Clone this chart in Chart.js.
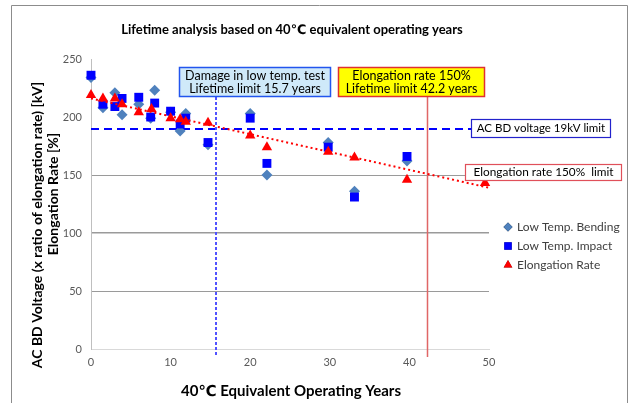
<!DOCTYPE html>
<html>
<head>
<meta charset="utf-8">
<script src="https://cdn.jsdelivr.net/npm/chart.js@4.4.1/dist/chart.umd.min.js"></script>
<style>
html,body{margin:0;padding:0;background:#fff;}
#wrap{position:relative;width:629px;height:403px;}
</style>
</head>
<body>
<div id="wrap"><canvas id="c" width="629" height="403"></canvas></div>
<script>
// ---- data ----
const bendingX = [0, 1.5, 3, 3.9, 6, 7.5, 8, 10, 11.2, 11.9, 14.7, 20, 22.1, 29.8, 33.1, 39.7];
const bendingY = [234, 208, 221, 202, 211, 199, 223, 204, 188, 203, 176, 203, 150, 178, 136, 162];
const impactX = [0, 1.5, 3, 3.9, 6, 7.5, 8, 10, 11.2, 11.9, 14.7, 20, 22.1, 29.8, 33.1, 39.7];
const impactY = [236, 211, 209, 216, 217, 200, 212, 205, 194, 199, 178, 199, 160, 174, 131, 166];
const elongX = [0, 1.5, 3, 3.9, 6, 7.6, 10, 11.2, 11.9, 14.7, 20, 22.1, 29.8, 33.1, 39.7, 49.5];
const elongY = [219, 216, 216, 211, 204, 207, 199, 198, 196, 195, 184, 174, 170, 165, 146, 143];
const trendX = [0, 50];
const trendY = [216, 139];
const acbdLimit = 190;          // AC BD voltage 19kV limit (x10)
const elongLimit = 150;         // elongation rate 150% limit
const lowTempLife = 15.7;       // years
const elongLife = 42.2;         // years
const xTicks = [0, 10, 20, 30, 40, 50];
const yTicks = [0, 50, 100, 150, 200, 250];
const seriesNames = ['Low Temp. Bending', 'Low Temp. Impact', 'Elongation Rate'];
const titleText = 'Lifetime analysis based on 40\u2103 equivalent operating years';
const xTitle = '40\u2103 Equivalent Operating Years';
const yTitle = ['AC BD Voltage (x ratio of elongation rate) [kV]', 'Elongation Rate [%]'];
const box1Text = ['Damage in low temp. test', 'Lifetime limit 15.7 years'];
const box2Text = ['Elongation rate 150%', 'Lifetime limit 42.2 years'];
const acbdText = 'AC BD voltage 19kV limit';
const elongText = 'Elongation rate 150%  limit';

const FONT = "Lato, 'Liberation Sans', 'DejaVu Sans', sans-serif";
const pts = (xs, ys) => xs.map((x, i) => ({x, y: ys[i]}));

const overlay = {
  id: 'overlay',
  beforeDatasetsDraw(chart) {
    const {ctx, scales: {x, y}, chartArea: ca} = chart;
    ctx.save();
    // horizontal blue dashed AC BD limit
    ctx.strokeStyle = '#0000ff';
    ctx.lineWidth = 2;
    ctx.setLineDash([8, 5]);
    ctx.beginPath();
    const yl = Math.round(y.getPixelForValue(acbdLimit));
    ctx.moveTo(ca.left, yl);
    ctx.lineTo(471, yl);
    ctx.stroke();
    // vertical blue dotted (15.7 yrs)
    ctx.strokeStyle = '#5252ff';
    ctx.lineWidth = 2;
    ctx.setLineDash([3, 2]);
    const xv1 = Math.round(x.getPixelForValue(lowTempLife));
    ctx.beginPath();
    ctx.moveTo(xv1, 97);
    ctx.lineTo(xv1, ca.bottom + 8);
    ctx.stroke();
    // vertical red solid (42.2 yrs)
    ctx.setLineDash([]);
    ctx.strokeStyle = '#e06666';
    ctx.lineWidth = 1.5;
    const xv2 = Math.round(x.getPixelForValue(elongLife)) + 0.5;
    ctx.beginPath();
    ctx.moveTo(xv2, 97);
    ctx.lineTo(xv2, ca.bottom + 8);
    ctx.stroke();
    ctx.restore();
  },
  afterDraw(chart) {
    const {ctx} = chart;
    ctx.save();
    // outer frame
    ctx.strokeStyle = '#8c8c8c';
    ctx.lineWidth = 1;
    ctx.beginPath();
    ctx.moveTo(11.5, 403);
    ctx.lineTo(11.5, 5.5);
    ctx.lineTo(627.5, 5.5);
    ctx.lineTo(627.5, 403);
    ctx.stroke();
    // title
    ctx.fillStyle = '#000';
    ctx.font = "bold 13px " + FONT;
    ctx.textAlign = 'center';
    ctx.textBaseline = 'middle';
    ctx.fillText(titleText, 292, 30);
    // x title
    ctx.font = "bold 15px " + FONT;
    ctx.fillText(xTitle, 291, 391);
    // y title (two lines, rotated)
    ctx.save();
    ctx.font = "bold 14px " + FONT;
    ctx.translate(37, 225);
    ctx.rotate(-Math.PI / 2);
    ctx.fillText(yTitle[0], 0, 0);
    ctx.restore();
    ctx.save();
    ctx.font = "bold 14px " + FONT;
    ctx.translate(53, 194);
    ctx.rotate(-Math.PI / 2);
    ctx.fillText(yTitle[1], 0, 0);
    ctx.restore();
    // boxes
    function box(x0, y0, x1, y1, bg, border, lw, lines, fs) {
      ctx.fillStyle = bg;
      ctx.fillRect(x0, y0, x1 - x0, y1 - y0);
      ctx.strokeStyle = border;
      ctx.lineWidth = lw;
      ctx.strokeRect(x0 + 0.5, y0 + 0.5, x1 - x0 - 1, y1 - y0 - 1);
      ctx.fillStyle = '#000';
      ctx.font = fs + "px " + FONT;
      ctx.textAlign = 'center';
      ctx.textBaseline = 'middle';
      const cx = (x0 + x1) / 2;
      const lh = 13;
      const cy = (y0 + y1) / 2 - (lines.length - 1) * lh / 2;
      lines.forEach((t, i) => ctx.fillText(t, cx, cy + i * lh));
    }
    box(179, 67, 331, 97, '#cfe9f9', '#2255ee', 1.5, box1Text, 12.5);
    box(338, 67, 485, 97, '#ffff00', '#e03030', 1.5, box2Text, 12.5);
    box(471, 119, 611, 138, '#ffffff', '#2222cc', 1.2, [acbdText], 11.5);
    box(465, 164, 622, 181, '#ffffff', '#e0505a', 1.2, [elongText], 11.8);
    // legend
    const ds = chart.data.datasets;
    const ly = [227, 246, 265];
    for (let i = 0; i < 3; i++) {
      const d = ds[i];
      Chart.helpers.drawPoint(ctx, {pointStyle: d.pointStyle, radius: d.pointRadius - 1, rotation: 0, borderWidth: 0}, 508, ly[i]);
      ctx.fillStyle = d.backgroundColor;
      ctx.fill();
      ctx.fillStyle = '#404040';
      ctx.font = "12px " + FONT;
      ctx.textAlign = 'left';
      ctx.textBaseline = 'middle';
      ctx.fillText(seriesNames[i], 517, ly[i]);
    }
    ctx.restore();
  }
};

new Chart(document.getElementById('c'), {
  type: 'scatter',
  data: {
    datasets: [
      {label: seriesNames[0], data: pts(bendingX, bendingY), pointStyle: 'rectRot', pointRadius: 5.5, clip: false,
       backgroundColor: '#4f81bd', borderColor: '#4f81bd', borderWidth: 0, order: 3},
      {label: seriesNames[1], data: pts(impactX, impactY), pointStyle: 'rect', pointRadius: 6.3, clip: false,
       backgroundColor: '#0000ff', borderColor: '#0000ff', borderWidth: 0, order: 2},
      {label: seriesNames[2], data: pts(elongX, elongY), pointStyle: 'triangle', pointRadius: 6, clip: false,
       backgroundColor: '#ff0000', borderColor: '#ff0000', borderWidth: 0, order: 1},
      {label: 'trend', data: pts(trendX, trendY), showLine: true, pointRadius: 0, clip: false,
       borderColor: '#ff0000', borderWidth: 2, borderDash: [2, 3], backgroundColor: '#ff0000', order: 0}
    ]
  },
  options: {
    responsive: false,
    animation: false,
    layout: {padding: {left: 0, right: 140, top: 59, bottom: 0}},
    plugins: {legend: {display: false}, title: {display: false}, tooltip: {enabled: false}},
    scales: {
      x: {
        type: 'linear', min: 0, max: 50,
        afterBuildTicks: s => { s.ticks = xTicks.map(v => ({value: v})); },
        afterFit: s => { s.height = 54; },
        grid: {display: false, drawTicks: false},
        border: {display: true, color: '#d9d9d9', width: 1},
        ticks: {color: '#595959', font: {family: FONT, size: 11}, padding: 7},
        title: {display: false}
      },
      y: {
        type: 'linear', min: 0, max: 250,
        afterBuildTicks: s => { s.ticks = yTicks.map(v => ({value: v})); },
        afterFit: s => { s.width = 91; },
        grid: {
          drawTicks: false,
          color: c => ([50, 100, 150].includes(c.tick && c.tick.value) ? '#9a9a9a' : 'rgba(0,0,0,0)'),
          lineWidth: c => (c.tick && c.tick.value === 100 ? 1.5 : 1)
        },
        border: {display: true, color: '#bfbfbf', width: 1},
        ticks: {color: '#595959', font: {family: FONT, size: 11}, padding: 9},
        title: {display: false}
      }
    }
  },
  plugins: [overlay]
});
</script>
</body>
</html>
